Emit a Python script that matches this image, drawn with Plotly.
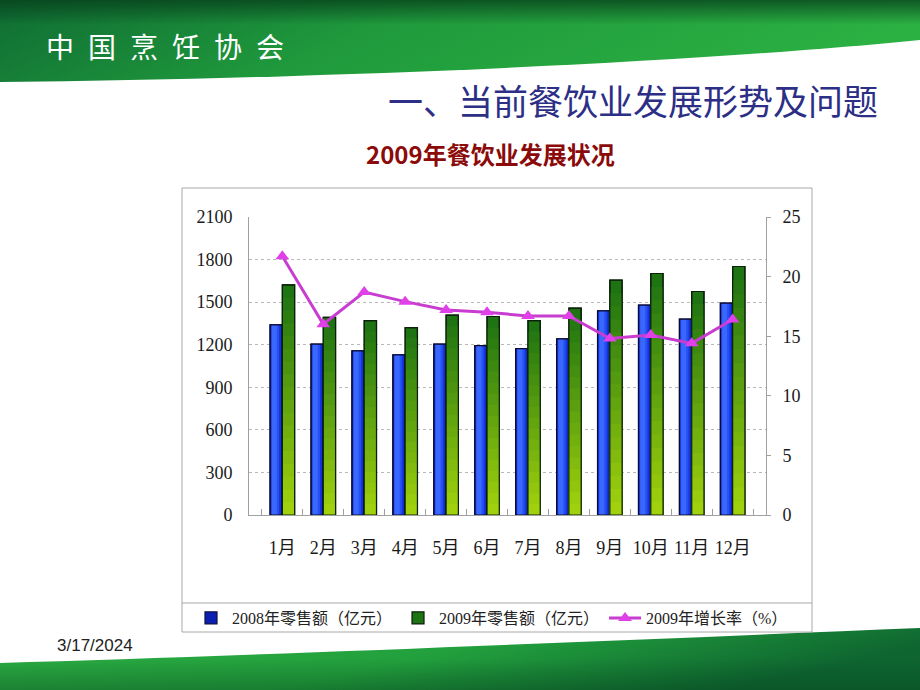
import base64
import plotly.graph_objects as go

# ---------------- data ----------------
months = ["1月", "2月", "3月", "4月", "5月", "6月", "7月", "8月", "9月", "10月", "11月", "12月"]
sales_2008 = [1340, 1204, 1157, 1129, 1204, 1194, 1173, 1241, 1439, 1479, 1380, 1493]
sales_2009 = [1622, 1392, 1370, 1321, 1408, 1399, 1370, 1458, 1655, 1702, 1575, 1751]
growth_2009 = [21.7, 16.0, 18.7, 17.9, 17.2, 17.0, 16.7, 16.7, 14.8, 15.1, 14.4, 16.4]
left_ticks = [0, 300, 600, 900, 1200, 1500, 1800, 2100]
right_ticks = [0, 5, 10, 15, 20, 25]

name_2008 = "2008年零售额（亿元）"
name_2009 = "2009年零售额（亿元）"
name_growth = "2009年增长率（%）"

W, H = 920, 690
def px(x):
    return x / W
def py(y):
    return 1 - y / H

# ---------------- slide background (decoration) ----------------
svg = f'''<svg xmlns="http://www.w3.org/2000/svg" width="{W}" height="{H}" viewBox="0 0 {W} {H}" preserveAspectRatio="none">
<defs>
<linearGradient id="t" x1="0" y1="0" x2="1" y2="0.2">
<stop offset="0" stop-color="#0f6b33"/><stop offset="0.45" stop-color="#1f993c"/><stop offset="1" stop-color="#2bb042"/>
</linearGradient>
<linearGradient id="tv" x1="0" y1="0" x2="0" y2="1">
<stop offset="0" stop-color="#063d1a" stop-opacity="0.75"/><stop offset="0.3" stop-color="#063d1a" stop-opacity="0"/>
</linearGradient>
<linearGradient id="b" x1="0" y1="0" x2="1" y2="0.3">
<stop offset="0" stop-color="#2dad44"/><stop offset="0.55" stop-color="#22a03d"/><stop offset="1" stop-color="#0e6530"/>
</linearGradient>
<linearGradient id="bv" x1="0" y1="0" x2="0" y2="1">
<stop offset="0.5" stop-color="#063d1a" stop-opacity="0"/><stop offset="1" stop-color="#063d1a" stop-opacity="0.35"/>
</linearGradient>
</defs>
<path d="M0,0 H920 V40 C700,62 350,78 0,82 Z" fill="url(#t)"/>
<path d="M0,0 H920 V40 C700,62 350,78 0,82 Z" fill="url(#tv)"/>
<path d="M0,663 C250,656 600,641 920,628 V690 H0 Z" fill="url(#b)"/>
<path d="M0,663 C250,656 600,641 920,628 V690 H0 Z" fill="url(#bv)"/>
</svg>'''
bg_uri = "data:image/svg+xml;base64," + base64.b64encode(svg.encode("utf-8")).decode("ascii")

fig = go.Figure()

# ---------------- blue bars (2008) with horizontal shading ----------------
blue_layers = [(-0.30, 0.30, "#0b1fb0"), (-0.285, 0.25, "#1636dc"),
               (-0.27, 0.19, "#2550f2"), (-0.255, 0.12, "#3a68ff")]
for i, (off, wd, col) in enumerate(blue_layers):
    fig.add_trace(go.Bar(
        x=months, y=sales_2008, offset=off, width=wd,
        marker=dict(color=col, line=dict(color="#101040", width=1.2 if i == 0 else 0)),
        name=name_2008, showlegend=(i == 0), legendgroup="b08",
        hoverinfo="skip" if i else None,
    ))
fig.add_trace(go.Bar(x=months, y=sales_2008, offset=-0.30, width=0.30,
                     marker=dict(color="rgba(0,0,0,0)", line=dict(color="#0a0a30", width=1.2)),
                     showlegend=False, legendgroup="b08", hoverinfo="skip"))

# ---------------- green bars (2009) with vertical gradient ----------------
top_c = (0x1a, 0x70, 0x12)
bot_c = (0xa4, 0xd4, 0x0c)
N = 18
for k in range(N):
    t = (k + 0.5) / N
    col = "rgb(%d,%d,%d)" % tuple(round(a + (b - a) * t) for a, b in zip(top_c, bot_c))
    frac = 1 - k / N
    fig.add_trace(go.Bar(
        x=months, y=[v * frac for v in sales_2009], offset=0.0, width=0.30,
        marker=dict(color=col, line=dict(color="#0a200a", width=1.2 if k == 0 else 0)),
        name=name_2009, showlegend=(k == 0), legendgroup="b09",
        hoverinfo="skip" if k else None,
    ))
fig.add_trace(go.Bar(x=months, y=sales_2009, offset=0.0, width=0.30,
                     marker=dict(color="rgba(0,0,0,0)", line=dict(color="#0a200a", width=1.2)),
                     showlegend=False, legendgroup="b09", hoverinfo="skip"))

# ---------------- growth line ----------------
fig.add_trace(go.Scatter(
    x=months, y=growth_2009, yaxis="y2", mode="lines+markers", name=name_growth,
    line=dict(color="#c83cd0", width=3),
    marker=dict(symbol="triangle-up", size=12, color="#e040e8"),
))

tick_font = dict(family="Liberation Serif, 'Noto Sans CJK SC', serif", size=18, color="#1a1a1a")

fig.update_layout(
    width=W, height=H, autosize=False,
    margin=dict(l=0, r=0, t=0, b=0, pad=0, autoexpand=False),
    paper_bgcolor="white", plot_bgcolor="rgba(0,0,0,0)",
    barmode="overlay",
    showlegend=True,
    legend=dict(orientation="h", x=px(190), xanchor="left", y=py(618), yanchor="middle",
                bgcolor="rgba(0,0,0,0)", borderwidth=0,
                font=dict(family="Liberation Serif, 'Noto Sans CJK SC', serif", size=16, color="#222"),
                itemwidth=32, traceorder="normal"),
    xaxis=dict(domain=[px(249), px(766)], type="category", showline=True, linecolor="#a0a0a0",
               linewidth=1, showgrid=False, ticks="inside", tickson="boundaries", ticklen=6,
               tickcolor="#a0a0a0", tickfont=tick_font, ticklabelstandoff=16, tickangle=0,
               automargin=False, fixedrange=True),
    yaxis=dict(domain=[py(515), py(217)], range=[0, 2100], tickvals=left_ticks,
               showline=True, linecolor="#a0a0a0", linewidth=1,
               showgrid=True, gridcolor="#b8b8b8", griddash="dot", gridwidth=1,
               zeroline=False, ticks="", tickfont=tick_font, ticklabelstandoff=12,
               automargin=False),
    yaxis2=dict(overlaying="y", side="right", range=[0, 25], tickvals=right_ticks,
                showline=True, linecolor="#a0a0a0", linewidth=1, showgrid=False, zeroline=False,
                ticks="outside", ticklen=4, tickcolor="#a0a0a0", tickfont=tick_font,
                ticklabelstandoff=8, automargin=False),
    images=[dict(source=bg_uri, xref="paper", yref="paper", x=0, y=1, sizex=1, sizey=1,
                 xanchor="left", yanchor="top", sizing="stretch", layer="below")],
    shapes=[
        dict(type="rect", xref="paper", yref="paper", x0=px(182), x1=px(812), y0=py(632), y1=py(188),
             line=dict(color="#a8a8a8", width=1), fillcolor="rgba(0,0,0,0)", layer="below"),
        dict(type="line", xref="paper", yref="paper", x0=px(182), x1=px(812), y0=py(603), y1=py(603),
             line=dict(color="#a8a8a8", width=1)),
    ],
    annotations=[
        dict(text="中\u2002国\u2002烹\u2002饪\u2002协\u2002会", xref="paper", yref="paper",
             x=px(44), y=py(46), xanchor="left", yanchor="middle", showarrow=False,
             font=dict(family="Noto Sans CJK SC", size=28, color="white")),
        dict(text="一、当前餐饮业发展形势及问题", xref="paper", yref="paper",
             x=px(880), y=py(100), xanchor="right", yanchor="middle", showarrow=False,
             font=dict(family="Noto Sans CJK SC", size=35, color="#2d2f86")),
        dict(text="<b>2009年餐饮业发展状况</b>", xref="paper", yref="paper",
             x=px(490), y=py(153), xanchor="center", yanchor="middle", showarrow=False,
             font=dict(family="Noto Sans CJK SC", size=24, color="#8b0a0a")),
        dict(text="3/17/2024", xref="paper", yref="paper",
             x=px(55), y=py(645), xanchor="left", yanchor="middle", showarrow=False,
             font=dict(family="Liberation Sans, Arial", size=17, color="#222")),
    ],
)

fig.write_html("out.html", config={"displayModeBar": False},
               post_script="document.body.style.margin='0';document.body.style.overflow='hidden';")
